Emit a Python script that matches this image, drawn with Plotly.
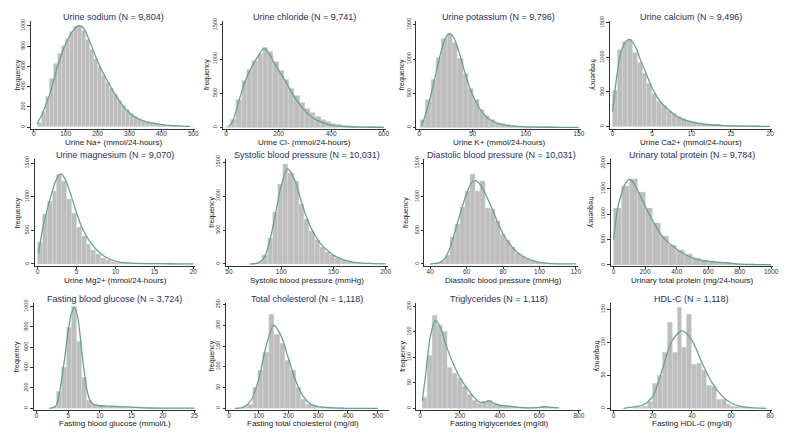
import plotly.graph_objects as go

W, H = 800, 434

# ---------------- data ----------------
sodium_start, sodium_width = 12.5, 12.5
sodium_counts = [40, 150, 300, 480, 620, 720, 800, 870, 940, 990, 1000, 950, 860, 760, 670, 590, 510, 440,
                 380, 320, 260, 210, 170, 130, 100, 80, 62, 50, 40, 32, 26, 21, 17, 14, 11, 9, 7, 6, 5]
sodium_curve_x = [10, 25, 50, 75, 100, 125, 140, 155, 175, 200, 225, 250, 275, 300, 325, 350, 375, 400, 450, 490]
sodium_curve_y = [30, 120, 320, 600, 820, 960, 1000, 980, 850, 650, 490, 350, 230, 140, 85, 55, 38, 25, 12, 6]

chloride_start, chloride_width = 0, 20
chloride_counts = [15, 120, 400, 680, 840, 980, 1080, 1160, 1100, 960, 830, 700, 570, 460, 360, 280, 210, 150,
                   110, 80, 55, 40, 28, 20, 15, 12, 10, 8, 6, 5]
chloride_curve_x = [10, 25, 50, 75, 100, 125, 145, 165, 190, 215, 240, 265, 290, 315, 340, 365, 400, 450, 500, 550, 600]
chloride_curve_y = [10, 90, 400, 700, 900, 1060, 1160, 1070, 900, 750, 580, 420, 290, 190, 120, 75, 35, 15, 8, 5, 3]

potassium_start, potassium_width = 1, 5
potassium_counts = [110, 400, 690, 1020, 1300, 1370, 1230, 1000, 790, 560, 400, 260, 170, 110, 75, 50, 35, 25,
                    18, 14, 11, 9, 7, 6, 5, 4, 3, 3, 2]
potassium_curve_x = [2, 5, 10, 15, 20, 25, 28, 32, 37, 42, 47, 52, 57, 62, 67, 75, 85, 100, 125, 150]
potassium_curve_y = [30, 150, 420, 750, 1080, 1320, 1370, 1320, 1120, 850, 600, 410, 270, 170, 110, 55, 25, 10, 4, 2]

calcium_start, calcium_width = 0, 0.625
calcium_counts = [510, 1110, 1230, 1260, 1070, 920, 760, 620, 480, 360, 300, 235, 180, 140, 110, 85, 65, 50,
                  40, 32, 26, 21, 17, 14, 11, 9, 8, 6, 5, 4, 3, 3]
calcium_curve_x = [0, 0.5, 1, 1.5, 2.2, 3, 3.5, 4, 5, 6, 7, 8, 9, 10, 11, 12, 14, 16, 18, 20]
calcium_curve_y = [220, 700, 1050, 1200, 1260, 1130, 970, 840, 560, 370, 250, 160, 100, 65, 45, 30, 15, 8, 4, 2]

magnesium_start, magnesium_width = 0, 0.625
magnesium_counts = [330, 740, 940, 1090, 1330, 1230, 970, 750, 550, 420, 300, 210, 140, 90, 55, 30, 18, 12,
                    9, 7, 6, 5, 4, 3, 3, 2, 2, 2, 2, 1, 1, 1]
magnesium_curve_x = [0.1, 0.6, 1.2, 1.8, 2.5, 3, 3.5, 4.2, 5, 5.7, 6.5, 7.5, 8.5, 9.5, 10.5, 12, 14, 16, 18, 20]
magnesium_curve_y = [150, 500, 800, 1050, 1280, 1340, 1270, 1050, 760, 540, 370, 220, 120, 60, 28, 12, 6, 4, 3, 2]

sbp_start, sbp_width = 72, 5
sbp_counts = [5, 30, 130, 380, 760, 1170, 1470, 1340, 1220, 880, 660, 480, 350, 250, 180, 130, 85, 60, 40, 25,
              15, 10, 6, 4, 3]
sbp_curve_x = [70, 78, 84, 90, 95, 100, 106, 110, 115, 120, 125, 130, 135, 140, 145, 150, 160, 170, 185, 200]
sbp_curve_y = [0, 15, 100, 400, 780, 1150, 1400, 1330, 1150, 880, 660, 490, 360, 260, 190, 130, 60, 25, 8, 3]

dbp_start, dbp_width = 42.5, 2.75
dbp_counts = [5, 40, 130, 400, 590, 840, 1085, 1330, 1080, 1230, 830, 820, 640, 450, 350, 255, 160, 110, 65,
              38, 22, 12, 8, 5, 3, 2]
dbp_curve_x = [40, 45, 48, 51, 54, 57, 60, 63, 65, 68, 71, 74, 77, 80, 83, 86, 90, 95, 100, 105, 112, 120]
dbp_curve_y = [0, 20, 80, 250, 520, 800, 1050, 1220, 1240, 1160, 1000, 820, 620, 450, 320, 220, 130, 60, 25, 10, 3, 1]

protein_start, protein_width = 0, 50
protein_counts = [1110, 1548, 1677, 1432, 1110, 820, 560, 387, 290, 213, 130, 84, 65, 45, 45, 20, 10, 8, 6, 5]
protein_curve_x = [0, 25, 50, 75, 100, 125, 150, 200, 250, 300, 350, 400, 450, 500, 550, 600, 650, 700, 750, 800, 900, 1000]
protein_curve_y = [500, 1100, 1400, 1600, 1680, 1620, 1480, 1160, 860, 600, 430, 310, 210, 140, 95, 70, 55, 45, 30, 15, 8, 5]

glucose_start, glucose_width = 2.4, 0.8
glucose_counts = [3, 160, 400, 790, 1000, 660, 300, 80, 35, 25, 22, 20, 18, 15, 12, 12, 10, 5, 4, 3, 3, 2, 2, 2,
                  1, 1, 1, 1]
glucose_curve_x = [2, 3, 3.5, 4, 4.5, 5, 5.5, 6, 6.5, 7, 7.5, 8, 8.5, 9, 10, 12, 14, 15, 17, 20, 25]
glucose_curve_y = [0, 20, 120, 300, 520, 760, 930, 990, 900, 650, 380, 170, 75, 40, 25, 20, 14, 12, 5, 2, 1]

chol_start, chol_width = 44, 18
chol_counts = [2, 10, 50, 90, 135, 225, 178, 155, 115, 90, 50, 22, 10, 5, 3, 2, 1, 1, 1]
chol_curve_x = [20, 50, 75, 100, 125, 150, 175, 200, 225, 250, 275, 300, 350, 400, 500]
chol_curve_y = [0, 3, 20, 70, 150, 200, 175, 120, 65, 28, 10, 4, 1, 0, 0]

trig_start, trig_width = 12.5, 25
trig_counts = [21, 103, 182, 162, 150, 80, 68, 58, 42, 28, 16, 10, 14, 16, 8, 6, 4, 3, 3, 2, 1, 1, 1, 2, 3, 2, 1]
trig_curve_x = [10, 25, 50, 75, 100, 125, 150, 175, 200, 225, 250, 275, 300, 325, 345, 370, 400, 450, 500, 550,
                600, 630, 660, 700]
trig_curve_y = [15, 60, 140, 172, 160, 130, 103, 80, 60, 45, 32, 20, 12, 12, 15, 10, 6, 4, 2, 1, 2, 3, 2, 1]

hdl_start, hdl_width = 10, 2.5
hdl_counts = [1, 1, 3, 10, 38, 49, 85, 130, 84, 153, 92, 142, 67, 68, 58, 34, 33, 13, 14, 5, 3, 2, 1, 1]
hdl_curve_x = [5, 10, 15, 20, 25, 30, 35, 40, 45, 50, 55, 60, 65, 70, 78]
hdl_curve_y = [0, 2, 5, 18, 60, 103, 118, 103, 70, 40, 20, 8, 3, 1, 0]

titles = ["Urine sodium (N = 9,804)", "Urine chloride (N = 9,741)", "Urine potassium (N = 9,796)",
          "Urine calcium (N = 9,496)", "Urine magnesium (N = 9,070)", "Systolic blood pressure (N = 10,031)",
          "Diastolic blood pressure (N = 10,031)", "Urinary total protein (N = 9,784)",
          "Fasting blood glucose (N = 3,724)", "Total cholesterol (N = 1,118)", "Triglycerides (N = 1,118)",
          "HDL-C (N = 1,118)"]
xlabels = ["Urine Na+ (mmol/24-hours)", "Urine Cl- (mmol/24-hours)", "Urine K+ (mmol/24-hours)",
           "Urine Ca2+ (mmol/24-hours)", "Urine Mg2+ (mmol/24-hours)", "Systolic blood pressure (mmHg)",
           "Diastolic blood pressure (mmHg)", "Urinary total protein (mg/24-hours)",
           "Fasting blood glucose (mmol/L)", "Fasting total cholesterol (mg/dl)", "Fasting triglycerides (mg/dl)",
           "Fasting HDL-C (mg/dl)"]
ytitle = "frequency"

xticks = [[0, 100, 200, 300, 400, 500], [0, 200, 400, 600], [0, 50, 100, 150], [0, 5, 10, 15, 20],
          [0, 5, 10, 15, 20], [50, 100, 150, 200], [40, 60, 80, 100, 120], [0, 200, 400, 600, 800, 1000],
          [0, 5, 10, 15, 20, 25], [0, 100, 200, 300, 400, 500], [0, 200, 400, 600, 800], [0, 20, 40, 60, 80]]
yticks = [[0, 200, 400, 600, 800, 1000], [0, 500, 1000, 1500], [0, 500, 1000, 1500], [0, 500, 1000, 1500],
          [0, 500, 1000, 1500], [0, 500, 1000, 1500], [0, 500, 1000, 1500], [0, 500, 1000, 1500, 2000],
          [0, 200, 400, 600, 800, 1000], [0, 50, 100, 150, 200, 250], [0, 50, 100, 150, 200], [0, 50, 100, 150]]

series = [
    (sodium_start, sodium_width, sodium_counts, sodium_curve_x, sodium_curve_y),
    (chloride_start, chloride_width, chloride_counts, chloride_curve_x, chloride_curve_y),
    (potassium_start, potassium_width, potassium_counts, potassium_curve_x, potassium_curve_y),
    (calcium_start, calcium_width, calcium_counts, calcium_curve_x, calcium_curve_y),
    (magnesium_start, magnesium_width, magnesium_counts, magnesium_curve_x, magnesium_curve_y),
    (sbp_start, sbp_width, sbp_counts, sbp_curve_x, sbp_curve_y),
    (dbp_start, dbp_width, dbp_counts, dbp_curve_x, dbp_curve_y),
    (protein_start, protein_width, protein_counts, protein_curve_x, protein_curve_y),
    (glucose_start, glucose_width, glucose_counts, glucose_curve_x, glucose_curve_y),
    (chol_start, chol_width, chol_counts, chol_curve_x, chol_curve_y),
    (trig_start, trig_width, trig_counts, trig_curve_x, trig_curve_y),
    (hdl_start, hdl_width, hdl_counts, hdl_curve_x, hdl_curve_y),
]

# ---------------- layout geometry (pixels) ----------------
# x: (first tick px, last tick px, domain left px, domain right px)
xgeo = [(33, 194, 30, 196), (227, 386, 224, 388), (422, 583, 419, 585), (617, 776, 614, 778),
        (37, 194, 34, 196), (230, 388, 227, 390), (433, 580, 427, 582), (618, 777, 615, 779),
        (36, 195, 33, 197), (230, 380, 227, 391), (423, 583, 419, 585), (618, 776, 615, 778)]
# y per panel: (zero px, top tick px)
ygeo = [(123.5, 21), (124, 20), (124, 20), (123, 18),
        (262, 160), (262, 159), (262, 160), (263, 160),
        (408, 305), (408, 303), (408, 305), (408, 308)]
rows_dom = [(16, 125), (156, 264), (301, 410)]
title_y = [12, 152, 297]
xlabel_y = [139, 279, 423.5]
ytitle_x = [17, 207, 404, 598, 17, 212, 408, 596, 17, 213, 406, 601]

FONT = "Liberation Sans, Arial, sans-serif"
BAR = "#bebebe"
CURVE = "#63a398"
NAVY = "#1f2f5f"

fig = go.Figure()
annotations = []
layout_axes = {}

for i, (start, width, counts, cx, cy) in enumerate(series):
    r, c = divmod(i, 4)
    k = "" if i == 0 else str(i + 1)
    centers = [start + width * (j + 0.5) for j in range(len(counts))]
    fig.add_trace(go.Bar(x=centers, y=counts, width=width,
                         marker=dict(color=BAR, line=dict(color="#d8d8d8", width=0.4)),
                         xaxis="x" + k, yaxis="y" + k, showlegend=False, hoverinfo="x+y"))
    fig.add_trace(go.Scatter(x=cx, y=cy, mode="lines",
                             line=dict(color=CURVE, width=1.3, shape="spline", smoothing=0.8),
                             xaxis="x" + k, yaxis="y" + k, showlegend=False))

    xt = xticks[i]
    p0, p1, d0, d1 = xgeo[i]
    s = (p1 - p0) / (xt[-1] - xt[0])
    xr = [xt[0] + (d0 - p0) / s, xt[0] + (d1 - p0) / s]
    yt = yticks[i]
    z, tp = ygeo[i]
    dt, db = rows_dom[r]
    sy = (z - tp) / yt[-1]
    yr = [-(db - z) / sy, (z - dt) / sy]

    axis_common = dict(showgrid=False, zeroline=False, showline=True, linecolor="#333", linewidth=1,
                       ticks="outside", tickwidth=1, tickcolor="#333")
    layout_axes["xaxis" + k] = dict(domain=[d0 / W, d1 / W], range=xr, anchor="y" + k, tickvals=xt,
                                    ticklen=2, ticklabelstandoff=-3,
                                    tickfont=dict(family=FONT, size=6.5, color="#333"), **axis_common)
    layout_axes["yaxis" + k] = dict(domain=[1 - db / H, 1 - dt / H], range=yr, anchor="x" + k, tickvals=yt,
                                    ticklen=2.5, tickangle=-90,
                                    tickfont=dict(family=FONT, size=5.5, color="#333"), **axis_common)

    cxp = (d0 + d1) / 2
    annotations.append(dict(text=titles[i], x=cxp / W, y=1 - title_y[r] / H, xref="paper", yref="paper",
                            showarrow=False, xanchor="center", yanchor="middle",
                            font=dict(family=FONT, size=9, color=NAVY)))
    annotations.append(dict(text=xlabels[i], x=(p0 + p1) / 2 / W, y=1 - xlabel_y[r] / H, xref="paper",
                            yref="paper", showarrow=False, xanchor="center", yanchor="middle",
                            font=dict(family=FONT, size=8, color="#222")))
    annotations.append(dict(text=ytitle, x=ytitle_x[i] / W, y=1 - (dt + db) / 2 / H, xref="paper", yref="paper",
                            showarrow=False, xanchor="center", yanchor="middle",
                            textangle=90 if c == 3 else -90,
                            font=dict(family=FONT, size=7, color="#222")))

fig.update_layout(width=W, height=H, margin=dict(l=0, r=0, t=0, b=0, pad=0), paper_bgcolor="white",
                  plot_bgcolor="white", bargap=0, barmode="overlay", annotations=annotations, **layout_axes)

fig.write_html("out.html", config={"displayModeBar": False},
               post_script="document.body.style.margin='0px';document.body.style.overflow='hidden';")
